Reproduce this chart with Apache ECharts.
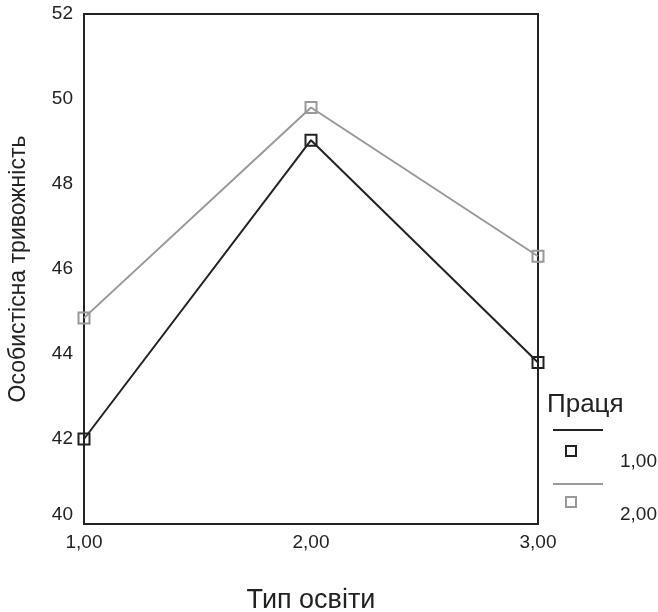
<!DOCTYPE html>
<html><head><meta charset="utf-8">
<script src="https://cdn.jsdelivr.net/npm/echarts@6/dist/echarts.min.js"></script>
<style>html,body{margin:0;padding:0;background:#fff}#c{width:658px;height:612px}</style>
</head><body><div id="c"></div>
<script>
const categories = [1, 2, 3];
const xTickLabels = ['1,00', '2,00', '3,00'];
const series1Name = '1,00';
const series1Values = [42.0, 49.03, 43.8];
const series2Name = '2,00';
const series2Values = [44.85, 49.8, 46.3];
const xAxisTitle = 'Тип освіти';
const yAxisTitle = 'Особистісна тривожність';
const legendTitle = 'Праця';

const font = '"Liberation Sans", Arial, sans-serif';
const chart = echarts.init(document.getElementById('c'), null, {renderer: 'canvas'});
const toPairs = vals => categories.map((c, i) => [c, vals[i]]);
chart.setOption({
  animation: false,
  backgroundColor: '#fff',
  grid: {left: 84, right: 120, top: 14, bottom: 88, containLabel: false, outerBoundsMode: 'none',
         show: true, borderColor: '#222', borderWidth: 2},
  xAxis: {
    type: 'value', min: 1, max: 3, interval: 1,
    name: xAxisTitle, nameLocation: 'middle', nameGap: 63,
    nameTextStyle: {fontFamily: font, fontSize: 27, color: '#222'},
    axisLine: {show: true, lineStyle: {color: '#222', width: 2}},
    axisTick: {show: false},
    splitLine: {show: false},
    axisLabel: {fontFamily: font, fontSize: 19, color: '#222', margin: 9,
      formatter: v => xTickLabels[categories.indexOf(v)] || ''}
  },
  yAxis: {
    type: 'value', min: 40, max: 52, interval: 2,
    name: yAxisTitle, nameLocation: 'middle', nameGap: 54, nameRotate: 90,
    nameTextStyle: {fontFamily: font, fontSize: 23, color: '#222'},
    axisLine: {show: true, lineStyle: {color: '#222', width: 2}},
    axisTick: {show: false},
    splitLine: {show: false},
    axisLabel: {fontFamily: font, fontSize: 19, color: '#222', margin: 11,
      verticalAlignMinLabel: 'bottom'}
  },
  series: [
    {name: series1Name, type: 'line', data: toPairs(series1Values),
     lineStyle: {color: '#222', width: 2}, symbol: 'rect', symbolSize: 11,
     itemStyle: {color: 'rgba(255,255,255,0)', borderColor: '#222', borderWidth: 2}},
    {name: series2Name, type: 'line', data: toPairs(series2Values),
     lineStyle: {color: '#999', width: 2}, symbol: 'rect', symbolSize: 11,
     itemStyle: {color: 'rgba(255,255,255,0)', borderColor: '#999', borderWidth: 2}}
  ],
  graphic: [
    {type: 'text', left: 547, top: 392, style: {text: legendTitle, font: '26px ' + font, fill: '#222'}},
    {type: 'line', shape: {x1: 553, y1: 430, x2: 603, y2: 430}, style: {stroke: '#222', lineWidth: 2}},
    {type: 'rect', shape: {x: 566, y: 446, width: 10, height: 10}, style: {fill: 'none', stroke: '#222', lineWidth: 2}},
    {type: 'text', left: 620, top: 452, style: {text: series1Name, font: '19px ' + font, fill: '#222'}},
    {type: 'line', shape: {x1: 553, y1: 484, x2: 603, y2: 484}, style: {stroke: '#999', lineWidth: 2}},
    {type: 'rect', shape: {x: 566, y: 497, width: 10, height: 10}, style: {fill: 'none', stroke: '#999', lineWidth: 2}},
    {type: 'text', left: 620, top: 505, style: {text: series2Name, font: '19px ' + font, fill: '#222'}}
  ]
});
</script></body></html>
